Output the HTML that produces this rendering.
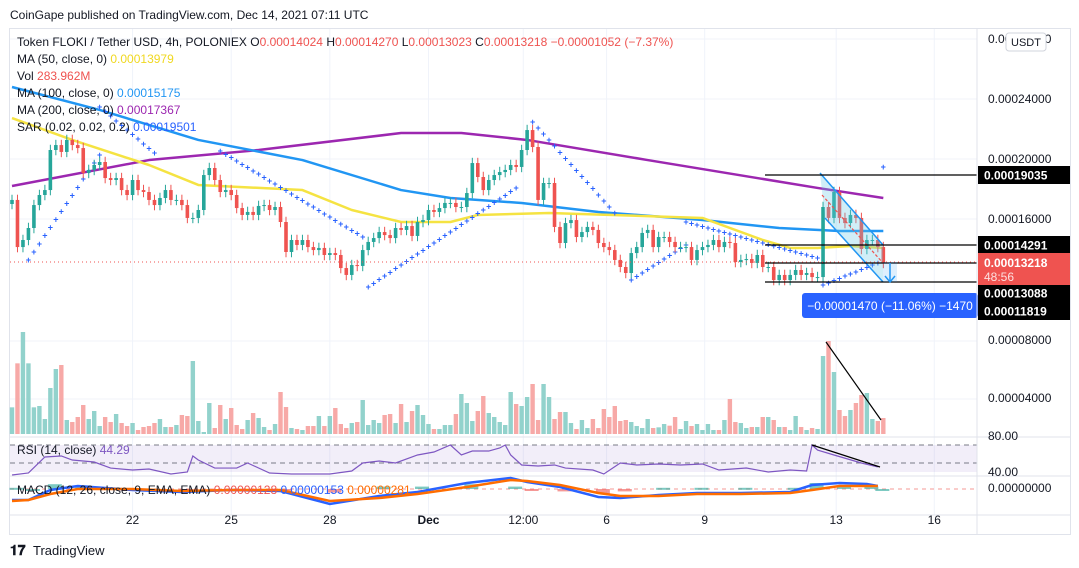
<!DOCTYPE html>
<html><head><meta charset="utf-8"><style>
body{margin:0;width:1079px;height:568px;background:#fff;overflow:hidden;font-family:"Liberation Sans",sans-serif;}
svg{display:block}
</style></head><body>
<svg id="c" width="1079" height="568" xmlns="http://www.w3.org/2000/svg" font-family="Liberation Sans, sans-serif">
<text x="10" y="19" font-size="12" fill="#131722">CoinGape published on TradingView.com, Dec 14, 2021 07:11 UTC</text>
<rect x="9.5" y="28.5" width="1061" height="506" fill="#fff" stroke="#e0e3eb"/>
<g id="grid"></g>
<g id="vol"></g>
<g id="ma"></g>
<g id="sar"></g>
<g id="candles"></g>
<g id="draw"></g>
<g id="rsi"></g>
<g id="macd"></g>
<g id="axis"></g>
<g font-size="12" fill="#131722">
<text x="17" y="46">Token FLOKI / Tether USD, 4h, POLONIEX <tspan fill="#131722">O</tspan><tspan fill="#ef5350">0.00014024</tspan> <tspan fill="#131722">H</tspan><tspan fill="#ef5350">0.00014270</tspan> <tspan fill="#131722">L</tspan><tspan fill="#ef5350">0.00013023</tspan> <tspan fill="#131722">C</tspan><tspan fill="#ef5350">0.00013218 −0.00001052 (−7.37%)</tspan></text>
<text x="17" y="63">MA (50, close, 0) <tspan fill="#f0d820">0.00013979</tspan></text>
<text x="17" y="80">Vol <tspan fill="#ef5350">283.962M</tspan></text>
<text x="17" y="97">MA (100, close, 0) <tspan fill="#2196f3">0.00015175</tspan></text>
<text x="17" y="114">MA (200, close, 0) <tspan fill="#9c27b0">0.00017367</tspan></text>
<text x="17" y="131">SAR (0.02, 0.02, 0.2) <tspan fill="#2962ff">0.00019501</tspan></text>
<text x="17" y="454">RSI (14, close) <tspan fill="#7e57c2">44.29</tspan></text>
<text x="17" y="494">MACD (12, 26, close, 9, EMA, EMA) <tspan fill="#ef5350">0.00000128</tspan> <tspan fill="#2962ff">0.00000153</tspan> <tspan fill="#ff6d00">0.00000281</tspan></text>
</g>
<g>
<text x="10" y="555" font-size="14" font-weight="bold" fill="#131722">𝟏𝟕</text>
<text x="33" y="555" font-size="13" fill="#131722">TradingView</text>
</g>
</svg>
<script>
const closes=[17.27,14.13,14.6,15.4,16.93,17.6,17.93,20.6,20.93,20.47,21.27,20.93,20.73,19.07,19.27,19.6,19.8,18.73,18.6,18.73,17.93,17.6,18.6,17.93,17.8,17.27,16.93,17.4,17.93,17.27,17.27,16.93,16.07,16.07,16.6,18.93,19.4,18.6,17.8,17.93,17.6,16.73,16.27,16.47,16.27,16.87,16.93,16.6,16.8,15.8,13.8,14.6,14.27,14.6,14.13,13.93,14.07,13.6,13.73,13.6,12.73,12.27,12.93,12.87,13.93,14.47,14.73,15.13,14.93,14.73,15.4,15.27,15.53,14.87,15.8,15.93,16.6,16.47,16.73,17.07,17.07,16.8,16.8,17.73,19.73,18.8,17.93,18.6,18.93,19.13,19.27,19.6,19.47,20.6,21.93,20.8,17.27,18.4,18.4,15.47,14.4,15.73,15.93,14.8,15.13,15.47,15.27,14.4,14.13,13.93,13.27,12.8,12.4,13.73,14.13,15.07,15.27,14.13,14.8,14.8,14.47,14.13,14.13,14.13,13.27,13.93,14.13,14.27,14.6,14.13,14.47,14.4,13.13,13.27,13.33,13.07,13.6,12.8,12.8,11.93,12.27,11.93,12.27,12.6,12.27,12.4,12.13,12.13,16.8,16.07,17.8,16.07,15.73,16.27,16.07,14.0,14.6,14.6,14.13,13.07];
const volumes=[80,212,306,212,80,84,45,138,195,207,42,36,51,87,45,69,24,51,36,60,33,24,33,12,21,24,33,45,21,21,27,57,54,219,39,6,93,18,87,45,78,27,15,42,63,48,21,12,30,126,81,18,15,12,24,24,54,24,54,78,30,18,33,36,102,27,42,33,57,60,33,90,36,69,87,57,30,15,15,27,27,60,120,93,39,69,114,63,51,36,27,126,90,84,111,150,42,150,111,45,66,66,33,15,42,18,45,18,75,51,84,39,42,36,24,18,45,18,20,30,25,51,15,39,24,30,12,30,12,12,42,105,36,33,18,21,21,51,51,42,21,21,12,54,21,12,18,15,234,279,186,72,54,72,93,117,123,45,39,48];
const ma200Idx=[0,25,45,71,82,94,116,136,147,159];
const ma200=[18.2,19.93,20.6,21.73,21.73,21.27,19.93,18.73,18.07,17.4];
const ma100Idx=[0,16,34,53,71,80,93,107,126,140,151,159];
const ma100=[24.8,23.27,21.27,19.93,17.93,17.4,17.07,16.47,15.93,15.4,15.2,15.2];
const ma50Idx=[0,11,25,34,53,62,71,80,85,98,126,137,142,147,153,159];
const ma50=[22.73,21.27,19.6,18.27,17.93,16.6,15.8,15.8,16.27,16.4,16.07,14.6,14.07,14.07,14.2,14.07];
const sarStart=[3,16,38,65,95,113,123,148,159];
const sarStartVal=[13.27,23.47,20.53,11.47,22.47,11.93,15.8,11.6,19.47];
const sarEnd=[16,26,64,92,110,123,147,158,159];
const sarEndVal=[20.27,20.4,14.8,18.07,16.4,14.27,13.4,13.07,19.47];
const rsiIdx=[0,3,6,9,11,15,18,22,25,29,32,33,34,37,41,43,47,51,54,58,62,64,67,70,74,77,80,82,84,87,89,90,91,93,96,99,101,106,108,111,114,118,122,126,129,134,138,142,145,146,147,150,155,158];
const rsiVals=[36.7,38.9,56.7,57.8,53.3,51.1,44.4,42.2,43.3,37.8,40,57.8,53.3,44.4,44.4,50,38.9,37.8,37.8,37.8,41.1,50,52.2,50,58.9,62.2,70,58.9,63.3,63.3,66.7,70,58.9,47.8,46.7,47.8,44.4,42.2,37.8,50,47.8,48.9,47.8,48.9,42.2,44.4,40,42.2,41.1,70,64.4,58.9,50,45.6];
const macdIdx=[0,3,7,12,22,31,40,49,58,67,74,83,91,94,100,107,111,118,125,133,142,146,151,156,158];
const macdVals=[-11,-11,-1,3,-1,-3,-1,-2,-15,-7,-3,6,11,7,2,-8,-9,-6,-4,-4,-3,4,6,5,3];
const signalVals=[-12,-11,-5,0,0,-2,-1,-1,-12,-9,-5,2,9,8,4,-4,-7,-7,-5,-5,-4,-1,3,3,3];
const timeLabels=["22","25","28","Dec","12:00","6","9","13","16"];
const timeIdx=[22,40,58,76,93.3,108.5,126.4,150.4,168.3];
const priceTicks=[28,24,20,16];

const NS="http://www.w3.org/2000/svg";
function xOf(i){return 12+i*5.48;}
function yP(p){return 459-p*15;}
function yR(v){return 508-v*0.9;}
function yM(v){return 489-v;}
function mk(tag,attrs,parent){const e=document.createElementNS(NS,tag);for(const k in attrs)e.setAttribute(k,attrs[k]);parent.appendChild(e);return e;}
const G=id=>document.getElementById(id);
const UP="#26a69a",DN="#ef5350";

// grid
const grid=G('grid');
timeIdx.forEach((t,i)=>{const l=mk('line',{x1:xOf(t),x2:xOf(t),y1:29,y2:515,stroke:'#f0f3fa'},grid);

});
priceTicks.forEach(p=>{const l=mk('line',{x1:10,x2:977,y1:yP(p),y2:yP(p),stroke:'#f0f3fa'},grid);

});
[341,399].forEach(y=>{const l=mk('line',{x1:10,x2:977,y1:y,y2:y,stroke:'#f0f3fa'},grid);

});

// volume
const vg=G('vol');
volumes.forEach((v,i)=>{const o=i?closes[i-1]:17;const up=closes[i]>=o;
const r=mk('rect',{x:xOf(i)-2.2,y:434-v/3,width:4.4,height:v/3,fill:up?'#92d2cc':'#f7a9a7'},vg);

});

// MAs
function line(idx,vals,col,name){const pts=idx.map((t,i)=>xOf(t)+','+yP(vals[i])).join(' ');
const pl=mk('polyline',{points:pts,fill:'none',stroke:col,'stroke-width':2.5,'stroke-linejoin':'round'},G('ma'));

}
line(ma200Idx,ma200,'#9c27b0','ma200-line');
line(ma100Idx,ma100,'#2196f3','ma100-line');
line(ma50Idx,ma50,'#f5e342','ma50-line');

// SAR
const sg=G('sar');
sarStart.forEach((s,k)=>{const e=sarEnd[k];for(let i=s;i<=e;i++){const f=e===s?0:(i-s)/(e-s);const p=sarStartVal[k]+(sarEndVal[k]-sarStartVal[k])*f;
const t=mk('text',{x:xOf(i),y:yP(p)+3,'font-size':9,'text-anchor':'middle',fill:'#2962ff','font-weight':'bold'},sg);t.textContent='+';

}});

// candles
const cg=G('candles');
closes.forEach((c,i)=>{const o=i?closes[i-1]:17;const up=c>=o;const col=up?UP:DN;const hi=Math.max(o,c)+0.35,lo=Math.min(o,c)-0.35;
const x=xOf(i);
const w=mk('line',{x1:x,x2:x,y1:yP(hi),y2:yP(lo),stroke:col},cg);


const b=mk('rect',{x:x-1.8,y:yP(Math.max(o,c)),width:3.6,height:Math.max(1,Math.abs(o-c)*15),fill:col},cg);

});

// drawings
const dg=G('draw');
dg.innerHTML='<polygon points="820,173 883,245 883,282 825,218" fill="rgba(100,200,230,0.3)" stroke="none"/>'+
'<line x1="820" y1="173" x2="883" y2="245" stroke="#2196f3" stroke-width="1.5"/>'+
'<line x1="825" y1="218" x2="883" y2="282" stroke="#2196f3" stroke-width="1.5"/>'+
'<line x1="822" y1="195" x2="883" y2="263" stroke="#ef5350" stroke-width="1.2" stroke-dasharray="3,2"/>'+
'<line x1="765" y1="175" x2="977" y2="175" stroke="#000" stroke-width="1.2"/>'+
'<line x1="765" y1="245" x2="977" y2="245" stroke="#000" stroke-width="1.2"/>'+
'<line x1="765" y1="263" x2="977" y2="263" stroke="#000" stroke-width="1.2"/>'+
'<line x1="765" y1="282" x2="977" y2="282" stroke="#000" stroke-width="1.2"/>'+
'<line x1="10" y1="262" x2="977" y2="262" stroke="#ef5350" stroke-dasharray="1,3"/>'+
'<rect x="883" y="262" width="14" height="20" fill="rgba(33,150,243,0.15)"/>'+
'<line x1="890" y1="263" x2="890" y2="281" stroke="#2196f3" stroke-width="1.5"/><polyline points="885,276 890,282 895,276" fill="none" stroke="#2196f3" stroke-width="1.5"/>'+
'<line x1="826" y1="342" x2="881" y2="420" stroke="#000" stroke-width="1.2"/>'+
'<rect x="802" y="293" width="176" height="25" rx="3" fill="#2962ff"/>'+
'<text x="890" y="310" font-size="12" fill="#fff" text-anchor="middle">−0.00001470 (−11.06%) −1470</text>';


// RSI pane
const rg=G('rsi');
mk('rect',{x:10,y:yR(70),width:967,height:yR(40)-yR(70),fill:'rgba(126,87,194,0.1)'},rg);
[70,50].forEach(v=>{const l=mk('line',{x1:10,x2:977,y1:yR(v),y2:yR(v),stroke:'#787b86','stroke-dasharray':'5,4'},rg);

});
const rp=mk('polyline',{points:rsiIdx.map((t,i)=>xOf(t)+','+Math.min(475,yR(rsiVals[i]))).join(' '),fill:'none',stroke:'#7e57c2','stroke-width':1.2},rg);


mk('line',{x1:812,y1:445,x2:880,y2:467,stroke:'#000','stroke-width':1.2},rg);

// MACD
const mg=G('macd');
mk('line',{x1:10,x2:977,y1:489,y2:489,stroke:'#ef5350','stroke-dasharray':'4,4','stroke-opacity':0.6},mg);
macdIdx.forEach((t,i)=>{const h=(macdVals[i]-signalVals[i])*1.2;
const r=mk('rect',{x:xOf(t)-2.5,y:h>0?489-h:489,width:14,height:Math.max(2,Math.abs(h)),fill:h>=0?'#26a69a':'#ef5350','fill-opacity':0.6},mg);

});
const ml=mk('polyline',{points:macdIdx.map((t,i)=>xOf(t)+','+yM(macdVals[i])).join(' '),fill:'none',stroke:'#2962ff','stroke-width':2.5},mg);


const sl=mk('polyline',{points:macdIdx.map((t,i)=>xOf(t)+','+yM(signalVals[i])).join(' '),fill:'none',stroke:'#ff6d00','stroke-width':2.5},mg);



// axes
const ag=G('axis');
[[977,29,977,534],[10,437,1070,437],[10,476,1070,476],[10,515,1070,515]].forEach(a=>{const l=mk('line',{x1:a[0],y1:a[1],x2:a[2],y2:a[3],stroke:'#e0e3eb'},ag);

});
timeLabels.forEach((s,i)=>{const t=mk('text',{x:xOf(timeIdx[i]),y:524,'font-size':12,'text-anchor':'middle',fill:'#131722','font-weight':s==='Dec'?'bold':'normal'},ag);t.textContent=s;

});
priceTicks.forEach(p=>{const t=mk('text',{x:988,y:yP(p)+4,'font-size':12,fill:'#131722'},ag);t.textContent='0.000'+(p*1000).toFixed(0).padStart(5,'0');

});
[['0.00008000',344],['0.00004000',402],['80.00',440],['40.00',476],['0.00000000',492]].forEach(a=>{const t=mk('text',{x:988,y:a[1],'font-size':12,fill:'#131722'},ag);t.textContent=a[0];

});
[['0.00019035',175,'#000'],['0.00014291',245,'#000'],['0.00013088',293,'#000'],['0.00011819',311,'#000']].forEach(a=>{const r=mk('rect',{x:978,y:a[1]-9,width:92,height:18,fill:a[2]},ag);


const t=mk('text',{x:984,y:a[1]+4.5,'font-size':12,'font-weight':'bold',fill:'#fff'},ag);t.textContent=a[0];});
mk('rect',{x:978,y:253,width:92,height:32,fill:'#ef5350'},ag);
const ct=mk('text',{x:984,y:267,'font-size':12,'font-weight':'bold',fill:'#fff'},ag);ct.textContent='0.00013218';


const cd=mk('text',{x:984,y:281,'font-size':12,fill:'#fde0e0'},ag);cd.textContent='48:56';


mk('rect',{x:1006,y:33,width:40,height:18,rx:3,fill:'#fff',stroke:'#d1d4dc'},ag);
const ub=mk('text',{x:1026,y:46,'font-size':11,'text-anchor':'middle',fill:'#131722'},ag);ub.textContent='USDT';


</script>
</body></html>
